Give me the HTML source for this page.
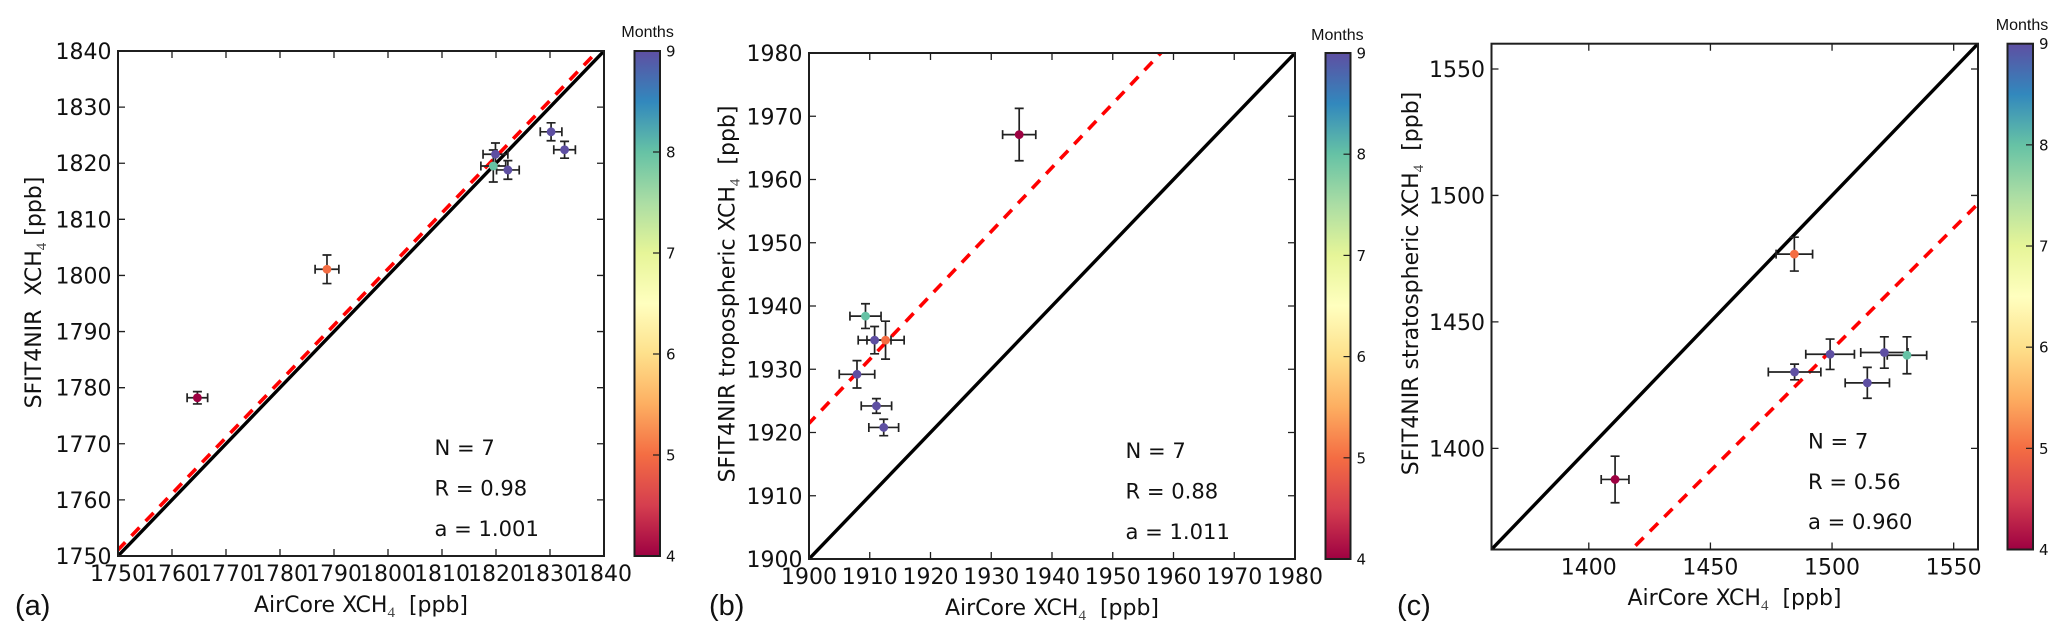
<!DOCTYPE html>
<html lang="en">
<head>
<meta charset="utf-8">
<title>SFIT4NIR vs AirCore XCH4 comparison</title>
<style>
  html, body { margin: 0; padding: 0; background: #fff; width: 2067px; height: 639px; overflow: hidden; }
  svg { display: block; overflow: hidden; position: absolute; left: 0; top: 0; }
  text { fill: #111111; font-family: "DejaVu Sans", "Liberation Sans", sans-serif; }
  .tick { font-size: 22px; }
  .label { font-size: 22px; }
  .note { font-size: 21.1px; }
  .panel { font-family: "Liberation Sans", sans-serif; font-size: 29px; }
  .months { font-family: "Liberation Sans", sans-serif; font-size: 16px; text-anchor: middle; }
  .cbtick { font-size: 15px; }
  .sub { font-family: "Liberation Serif", serif; font-size: 15px; fill: #444444; }
</style>
</head>
<body>
<svg id="figure" xmlns="http://www.w3.org/2000/svg" width="2067" height="639" viewBox="0 0 2067 639">
  <rect x="0" y="0" width="2067" height="639" fill="#ffffff"/>
  <defs id="defs"></defs>

  <g id="panel-a">
    <text class="label" x="361" y="612" text-anchor="middle">AirCore XCH<tspan class="sub" dy="5">4</tspan><tspan dy="-5">&#160; [ppb]</tspan></text>
    <text class="label" transform="translate(41,292.5) rotate(-90)" text-anchor="middle">SFIT4NIR&#160; XCH<tspan class="sub" dy="5">4</tspan><tspan dy="-5"> [ppb]</tspan></text>
    <text class="note" x="434.5" y="455">N = 7</text>
    <text class="note" x="434.5" y="495.7">R = 0.98</text>
    <text class="note" x="434.5" y="536">a = 1.001</text>
    <text class="panel" x="15" y="615">(a)</text>
    <text class="months" x="647.6" y="37">Months</text>
  </g>

  <g id="panel-b">
    <text class="label" x="1052" y="615" text-anchor="middle">AirCore XCH<tspan class="sub" dy="5">4</tspan><tspan dy="-5">&#160; [ppb]</tspan></text>
    <text class="label" transform="translate(734.5,294) rotate(-90)" text-anchor="middle">SFIT4NIR tropospheric XCH<tspan class="sub" dy="5">4</tspan><tspan dy="-5">&#160; [ppb]</tspan></text>
    <text class="note" x="1125.5" y="458">N = 7</text>
    <text class="note" x="1125.5" y="498.7">R = 0.88</text>
    <text class="note" x="1125.5" y="539">a = 1.011</text>
    <text class="panel" x="709" y="615">(b)</text>
    <text class="months" x="1337.4" y="40">Months</text>
  </g>

  <g id="panel-c">
    <text class="label" x="1734.5" y="605" text-anchor="middle">AirCore XCH<tspan class="sub" dy="5">4</tspan><tspan dy="-5">&#160; [ppb]</tspan></text>
    <text class="label" transform="translate(1418,283.5) rotate(-90)" text-anchor="middle">SFIT4NIR stratospheric XCH<tspan class="sub" dy="5">4</tspan><tspan dy="-5">&#160; [ppb]</tspan></text>
    <text class="note" x="1808" y="448.3">N = 7</text>
    <text class="note" x="1808" y="489">R = 0.56</text>
    <text class="note" x="1808" y="529">a = 0.960</text>
    <text class="panel" x="1397" y="615">(c)</text>
    <text class="months" x="2022" y="30">Months</text>
  </g>
</svg>

<script>
// ---- Panel (a) data ----
const aLimits = [1750, 1840];
const aTicks = [1750, 1760, 1770, 1780, 1790, 1800, 1810, 1820, 1830, 1840];
const aTickLabels = ["1750", "1760", "1770", "1780", "1790", "1800", "1810", "1820", "1830", "1840"];
const aAirCore = [1764.7, 1788.7, 1819.9, 1819.5, 1822.2, 1830.2, 1832.7];
const aSfit = [1778.2, 1801.1, 1821.6, 1819.5, 1818.8, 1825.6, 1822.4];
const aAirCoreErr = [1.9, 2.2, 2.3, 2.3, 2.1, 2.0, 2.0];
const aSfitErr = [1.1, 2.55, 2.0, 2.85, 1.66, 1.6, 1.5];
const aMonths = [4, 5, 9, 8, 9, 9, 9];
const aFitSlope = 1.001;
const aFitIntercept = -0.65;

// ---- Panel (b) data ----
const bLimits = [1900, 1980];
const bTicks = [1900, 1910, 1920, 1930, 1940, 1950, 1960, 1970, 1980];
const bTickLabels = ["1900", "1910", "1920", "1930", "1940", "1950", "1960", "1970", "1980"];
const bAirCore = [1934.6, 1909.3, 1910.8, 1912.6, 1907.9, 1911.1, 1912.3];
const bSfit = [1967.1, 1938.4, 1934.6, 1934.6, 1929.2, 1924.2, 1920.8];
const bAirCoreErr = [2.73, 2.56, 2.7, 3.06, 2.92, 2.5, 2.45];
const bSfitErr = [4.14, 1.95, 2.16, 3.0, 2.16, 1.16, 1.3];
const bMonths = [4, 8, 9, 5, 9, 9, 9];
const bFitSlope = 1.011;
const bFitIntercept = 0.55;

// ---- Panel (c) data ----
const cLimits = [1360, 1560];
const cTicks = [1400, 1450, 1500, 1550];
const cTickLabels = ["1400", "1450", "1500", "1550"];
const cAirCore = [1410.8, 1484.5, 1484.6, 1499.2, 1521.5, 1530.8, 1514.5];
const cSfit = [1387.7, 1476.8, 1430.2, 1437.2, 1437.9, 1436.8, 1425.9];
const cAirCoreErr = [5.7, 7.5, 10.8, 10, 9.7, 8.1, 9.1];
const cSfitErr = [9.2, 6.7, 3.1, 6, 6.2, 7.3, 6.1];
const cMonths = [4, 5, 9, 9, 9, 8, 9];
const cFitSlope = 0.960;
const cFitIntercept = -0.9;

// ---- Colour bar data ----
const monthLimits = [4, 9];
const monthTicks = [4, 5, 6, 7, 8, 9];
const monthTickLabels = ["4", "5", "6", "7", "8", "9"];
const spectralColors = ["#9e0142", "#d53e4f", "#f46d43", "#fdae61", "#fee08b", "#ffffbf", "#e6f598", "#abdda4", "#66c2a5", "#3288bd", "#5e4fa2"];

const NS = "http://www.w3.org/2000/svg";
const INK = "#1f1f1f";

function make(parent, tag, attrs, text) {
  const el = document.createElementNS(NS, tag);
  for (const key in attrs) el.setAttribute(key, attrs[key]);
  if (text !== undefined) el.textContent = text;
  parent.appendChild(el);
  return el;
}

function monthColor(month) {
  const t = (month - monthLimits[0]) / (monthLimits[1] - monthLimits[0]);
  const pos = Math.max(0, Math.min(1, t)) * (spectralColors.length - 1);
  const i = Math.min(Math.floor(pos), spectralColors.length - 2);
  const f = pos - i;
  const parse = c => [1, 3, 5].map(k => parseInt(c.substr(k, 2), 16));
  const a = parse(spectralColors[i]);
  const b = parse(spectralColors[i + 1]);
  return "rgb(" + a.map((v, k) => Math.round(v + (b[k] - v) * f)).join(",") + ")";
}

const defs = document.getElementById("defs");
const gradient = make(defs, "linearGradient", { id: "spectral", x1: 0, y1: 1, x2: 0, y2: 0 });
spectralColors.forEach((color, i) => {
  make(gradient, "stop", { offset: i / (spectralColors.length - 1), "stop-color": color });
});

function drawPanel(groupId, box, bar, dashOffset, limits, ticks, tickLabels, xs, ys, xErr, yErr, months, slope, intercept) {
  const group = document.getElementById(groupId);
  const xScale = v => box.left + (v - limits[0]) / (limits[1] - limits[0]) * (box.right - box.left);
  const yScale = v => box.bottom - (v - limits[0]) / (limits[1] - limits[0]) * (box.bottom - box.top);

  const clip = make(defs, "clipPath", { id: groupId + "-clip" });
  make(clip, "rect", { x: box.left, y: box.top, width: box.right - box.left, height: box.bottom - box.top });

  const plot = make(group, "g", { "clip-path": "url(#" + groupId + "-clip)" });
  
  

  const fitY = x => slope * x + intercept;
  const fit = make(plot, "line", {
    x1: xScale(limits[0]), y1: yScale(fitY(limits[0])),
    x2: xScale(limits[1]), y2: yScale(fitY(limits[1])),
    stroke: "#ff0000", "stroke-width": 3.6, "stroke-dasharray": "11.5 8.9", "stroke-dashoffset": dashOffset
  });
  
  

  const identity = make(plot, "line", {
    x1: xScale(limits[0]), y1: yScale(limits[0]),
    x2: xScale(limits[1]), y2: yScale(limits[1]),
    stroke: "#000000", "stroke-width": 3.4
  });
  
  

  xs.forEach((value, i) => {
    const cx = xScale(value);
    const cy = yScale(ys[i]);
    const x0 = xScale(value - xErr[i]);
    const x1 = xScale(value + xErr[i]);
    const y0 = yScale(ys[i] - yErr[i]);
    const y1 = yScale(ys[i] + yErr[i]);
    const cap = 4.5;
    const path = "M" + x0 + " " + cy + "H" + x1 +
      "M" + cx + " " + y0 + "V" + y1 +
      "M" + x0 + " " + (cy - cap) + "V" + (cy + cap) +
      "M" + x1 + " " + (cy - cap) + "V" + (cy + cap) +
      "M" + (cx - cap) + " " + y0 + "H" + (cx + cap) +
      "M" + (cx - cap) + " " + y1 + "H" + (cx + cap);
    const err = make(plot, "path", { d: path, fill: "none", stroke: "#222222", "stroke-width": 1.7 });
    
    
  });

  xs.forEach((value, i) => {
    const dot = make(plot, "circle", { cx: xScale(value), cy: yScale(ys[i]), r: 4.4, fill: monthColor(months[i]) });
    
    
  });

  const frame = make(group, "rect", {
    x: box.left, y: box.top, width: box.right - box.left, height: box.bottom - box.top,
    fill: "none", stroke: INK, "stroke-width": 2
  });
  
  

  const tickLen = 7;
  ticks.forEach((tick, i) => {
    const px = xScale(tick);
    const py = yScale(tick);
    const marks = make(group, "path", {
      d: "M" + px + " " + box.bottom + "v" + (-tickLen) +
         "M" + px + " " + box.top + "v" + tickLen +
         "M" + box.left + " " + py + "h" + tickLen +
         "M" + box.right + " " + py + "h" + (-tickLen),
      stroke: INK, "stroke-width": 1.3, fill: "none"
    });
    
    

    const xLabel = make(group, "text", { class: "tick", x: px, y: box.bottom + 25, "text-anchor": "middle" }, tickLabels[i]);
    
    

    const yLabel = make(group, "text", { class: "tick", x: box.left - 6.5, y: py + 8, "text-anchor": "end" }, tickLabels[i]);
    
    
  });

  const cbarRect = make(group, "rect", {
    x: bar.left, y: box.top, width: bar.right - bar.left, height: box.bottom - box.top,
    fill: "url(#spectral)", stroke: INK, "stroke-width": 2
  });
  
  

  const monthScale = v => box.bottom - (v - monthLimits[0]) / (monthLimits[1] - monthLimits[0]) * (box.bottom - box.top);
  monthTicks.forEach((tick, i) => {
    const py = monthScale(tick);
    const mark = make(group, "line", { x1: bar.right - 7, x2: bar.right, y1: py, y2: py, stroke: INK, "stroke-width": 1.2 });
    
    

    const label = make(group, "text", { class: "cbtick", x: bar.right + 6, y: py + 5.5 }, monthTickLabels[i]);
    
    
  });
}

drawPanel("panel-a", { left: 118, right: 604, top: 51, bottom: 556 }, { left: 634.5, right: 660 }, 1,
  aLimits, aTicks, aTickLabels, aAirCore, aSfit, aAirCoreErr, aSfitErr, aMonths, aFitSlope, aFitIntercept);
drawPanel("panel-b", { left: 809, right: 1295, top: 53, bottom: 559 }, { left: 1325.5, right: 1350.5 }, 2.5,
  bLimits, bTicks, bTickLabels, bAirCore, bSfit, bAirCoreErr, bSfitErr, bMonths, bFitSlope, bFitIntercept);
drawPanel("panel-c", { left: 1491.5, right: 1978, top: 43.7, bottom: 549.5 }, { left: 2007.5, right: 2033 }, 0.6,
  cLimits, cTicks, cTickLabels, cAirCore, cSfit, cAirCoreErr, cSfitErr, cMonths, cFitSlope, cFitIntercept);
</script>
</body>
</html>
